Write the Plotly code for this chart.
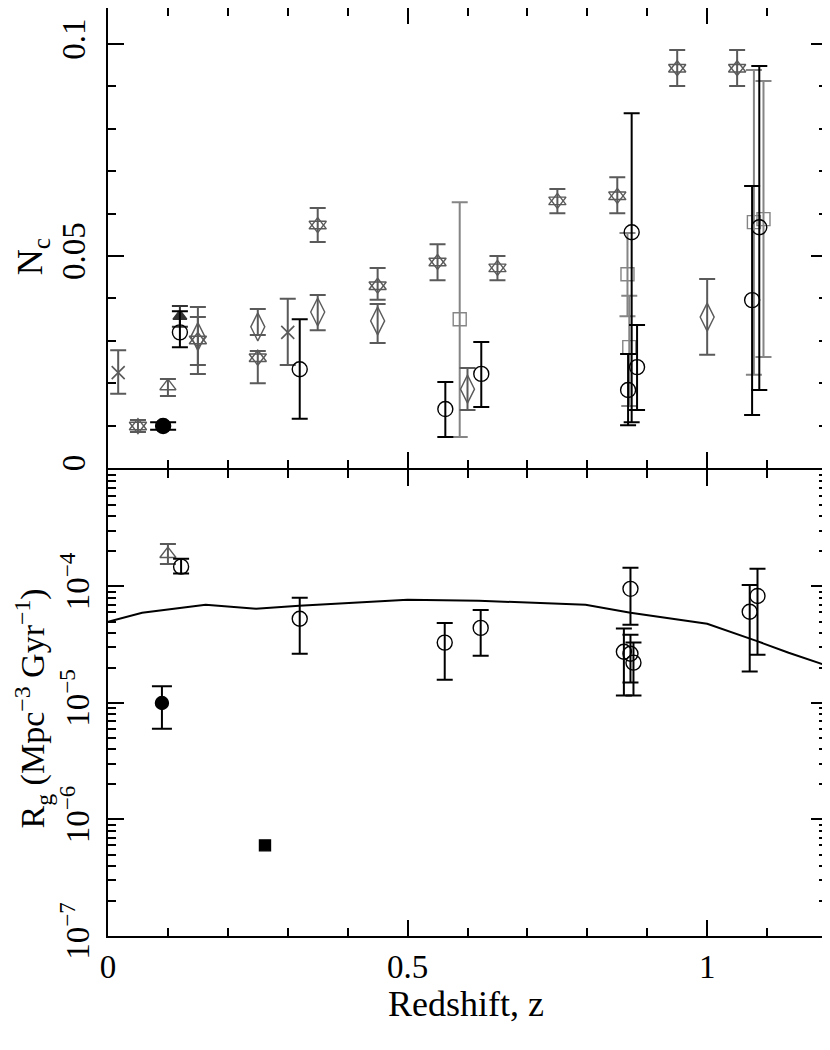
import numpy as np
import plotly.graph_objects as go
from plotly.subplots import make_subplots

# 위 패널: N_c =====================================================================
hex_z = [0.05, 0.15, 0.25, 0.35, 0.45, 0.55, 0.65, 0.75, 0.85, 0.95, 1.05]
hex_nc = [0.0099, 0.0302, 0.026, 0.0573, 0.043, 0.0486, 0.0472, 0.063, 0.0642, 0.0943, 0.0943]
hex_hi = [0.0113, 0.0356, 0.0276, 0.0613, 0.0472, 0.0528, 0.050, 0.0658, 0.0686, 0.0986, 0.0986]
hex_lo = [0.0085, 0.0243, 0.020, 0.0533, 0.0397, 0.0443, 0.0443, 0.0601, 0.0601, 0.0901, 0.0901]

dia_z = [0.15, 0.25, 0.35, 0.45, 0.60, 1.00]
dia_nc = [0.031, 0.0333, 0.0368, 0.0347, 0.0186, 0.0356]
dia_hi = [0.038, 0.0375, 0.0408, 0.0387, 0.0236, 0.0446]
dia_lo = [0.0222, 0.0314, 0.0325, 0.0295, 0.0137, 0.0267]

cross_z = [0.017, 0.30]
cross_nc = [0.0225, 0.032]
cross_hi = [0.0278, 0.0399]
cross_lo = [0.0175, 0.0243]

sq_z = [0.587, 0.867, 0.870, 1.078, 1.094]
sq_nc = [0.0351, 0.0457, 0.0285, 0.058, 0.0587]
sq_hi = [0.0627, 0.0554, 0.0406, 0.0939, 0.0913]
sq_lo = [0.0073, 0.0358, 0.0146, 0.0220, 0.0262]

tri_z = [0.10]
tri_nc = [0.0193]
tri_hi = [0.021]
tri_lo = [0.017]

ftri_z = [0.12]
ftri_nc = [0.0358]
ftri_hi = [0.0382]
ftri_lo = [0.0333]

fcirc_z = [0.092]
fcirc_nc = [0.0099]
fcirc_hi = [0.0108]
fcirc_lo = [0.0090]

circ_z = [0.12, 0.32, 0.563, 0.623, 0.874, 0.868, 0.883, 1.075, 1.087]
circ_nc = [0.032, 0.0233, 0.0139, 0.0222, 0.0556, 0.0184, 0.0238, 0.0396, 0.0568]
circ_hi = [0.037, 0.0351, 0.0203, 0.0297, 0.0837, 0.0269, 0.0337, 0.0665, 0.0948]
circ_lo = [0.0285, 0.0116, 0.0073, 0.0144, 0.0108, 0.0101, 0.0137, 0.0125, 0.0184]

# 아래 패널: R_g ===================================================================
rg_z = [0.122, 0.32, 0.562, 0.622, 0.872, 0.861, 0.872, 0.877, 1.071, 1.084]
rg = [1.48e-4, 5.28e-5, 3.3e-5, 4.41e-5, 9.55e-5, 2.75e-5, 2.65e-5, 2.22e-5, 6.07e-5, 8.3e-5]
rg_hi = [1.73e-4, 8.0e-5, 4.87e-5, 6.3e-5, 1.45e-4, 4.35e-5, 3.85e-5, 3.3e-5, 1.03e-4, 1.42e-4]
rg_lo = [1.29e-4, 2.65e-5, 1.58e-5, 2.55e-5, 4.7e-5, 1.16e-5, 1.5e-5, 1.16e-5, 1.86e-5, 2.6e-5]

rtri_z = [0.10]
rtri = [1.9e-4]
rtri_hi = [2.32e-4]
rtri_lo = [1.56e-4]

rfcirc_z = [0.09]
rfcirc = [1.0e-5]
rfcirc_hi = [1.39e-5]
rfcirc_lo = [6.0e-6]

rfsq_z = [0.262]
rfsq = [6.0e-7]

model_z = [0.0, 0.057, 0.163, 0.247, 0.319, 0.402, 0.5, 0.619, 0.736, 0.797, 0.872, 1.0, 1.081, 1.136, 1.2]
model_rg = [4.99e-5, 5.96e-5, 6.97e-5, 6.44e-5, 6.84e-5, 7.25e-5, 7.69e-5, 7.54e-5, 7.11e-5,
            6.97e-5, 5.96e-5, 4.79e-5, 3.43e-5, 2.7e-5, 2.09e-5]

GRAY = "#5a5a5a"
LGRAY = "#858585"
FONT = "Liberation Serif"
TICK_SIZE = 33
TITLE_SIZE = 36

fig = make_subplots(rows=2, cols=1, shared_xaxes=True, vertical_spacing=0)


def add_pts(x, y, hi, lo, symbol, color, size, row, lw=1.4, fill=None, cap=8):
    """점 + 비대칭 오차 막대"""
    err = None
    if hi is not None:
        err = dict(type="data", symmetric=False,
                   array=[h - v for h, v in zip(hi, y)],
                   arrayminus=[v - l for v, l in zip(y, lo)],
                   color=color, thickness=2, width=cap)
    mk = dict(symbol=symbol, size=size, color=fill or color,
              line=dict(color=color, width=lw))
    fig.add_trace(go.Scatter(x=x, y=y, mode="markers", marker=mk, error_y=err,
                             showlegend=False), row=row, col=1)


# 위 패널
add_pts(sq_z, sq_nc, sq_hi, sq_lo, "square-open", LGRAY, 13, 1)
add_pts(cross_z, cross_nc, cross_hi, cross_lo, "x-thin-open", GRAY, 13, 1, lw=1.6)
add_pts(dia_z, dia_nc, dia_hi, dia_lo, "diamond-tall-open", GRAY, 20, 1)
add_pts(hex_z, hex_nc, hex_hi, hex_lo, "triangle-up-open", GRAY, 15, 1)
add_pts(hex_z, hex_nc, None, None, "triangle-down-open", GRAY, 15, 1)
add_pts(tri_z, tri_nc, tri_hi, tri_lo, "triangle-up-open", GRAY, 14, 1)
add_pts(ftri_z, ftri_nc, ftri_hi, ftri_lo, "triangle-up", "#333333", 12, 1)
add_pts(circ_z, circ_nc, circ_hi, circ_lo, "circle-open", "black", 15, 1)
add_pts(fcirc_z, fcirc_nc, fcirc_hi, fcirc_lo, "circle", "black", 15, 1, cap=13)

# 아래 패널
fig.add_trace(go.Scatter(x=model_z, y=model_rg, mode="lines",
                         line=dict(color="black", width=2), showlegend=False), row=2, col=1)
add_pts(rtri_z, rtri, rtri_hi, rtri_lo, "triangle-up-open", GRAY, 14, 2)
add_pts(rg_z, rg, rg_hi, rg_lo, "circle-open", "black", 15, 2)
add_pts(rfcirc_z, rfcirc, rfcirc_hi, rfcirc_lo, "circle", "black", 13, 2, cap=10)
add_pts(rfsq_z, rfsq, None, None, "square", "black", 11, 2)

axis_common = dict(showline=True, linecolor="black", linewidth=2, mirror="ticks",
                   ticks="inside", tickcolor="black", tickwidth=1.5, showgrid=False,
                   zeroline=False, automargin=False,
                   tickfont=dict(family=FONT, size=TICK_SIZE, color="black"))

fig.update_xaxes(range=[0, 1.2], tickvals=[0, 0.5, 1], ticktext=["0", "0.5", "1"],
                 ticklen=16, minor=dict(dtick=0.1, ticks="inside", ticklen=8,
                                        tickcolor="black", tickwidth=1.5),
                 **axis_common)
fig.update_xaxes(showticklabels=False, row=1, col=1)

fig.update_yaxes(range=[0, 0.1085], tickvals=[0, 0.05, 0.1], ticktext=["0", "0.05", "0.1"],
                 ticklen=16, tickangle=-90, domain=[0.50431, 1], ticklabelstandoff=8,
                 minor=dict(dtick=0.01, ticks="inside", ticklen=8,
                            tickcolor="black", tickwidth=1.5),
                 row=1, col=1, **axis_common)
fig.update_yaxes(type="log", range=[-7, -3], tickvals=[1e-7, 1e-6, 1e-5, 1e-4],
                 ticktext=["10<sup>−7</sup>", "10<sup>−6</sup>", "10<sup>−5</sup>", "10<sup>−4</sup>"],
                 ticklen=16, tickangle=-90, domain=[0, 0.50216], ticklabelstandoff=4,
                 minor=dict(dtick="D1", ticks="inside", ticklen=8,
                            tickcolor="black", tickwidth=1.5),
                 row=2, col=1, **axis_common)

title_font = dict(family=FONT, size=TITLE_SIZE, color="black")
fig.add_annotation(text="N<sub>c</sub>", xref="paper", yref="paper", x=-0.104, y=0.7317,
                   textangle=-90, showarrow=False, font=title_font, xanchor="center", yanchor="middle")
fig.add_annotation(text="R<sub>g</sub> (Mpc<sup>−3</sup> Gyr<sup>−1</sup>)", xref="paper", yref="paper",
                   x=-0.1045, y=0.245, textangle=-90, showarrow=False,
                   font=dict(family=FONT, size=34, color="black"),
                   xanchor="center", yanchor="middle")
fig.add_annotation(text="Redshift, z", xref="paper", yref="paper", x=0.498, y=-0.073,
                   showarrow=False, font=title_font, xanchor="center", yanchor="middle")

# 페이지 기본 여백(8px)을 감안한 크기
fig.update_layout(width=822, height=1042, plot_bgcolor="white", paper_bgcolor="white",
                  margin=dict(l=100, r=3, t=0, b=114), showlegend=False)

fig.write_html("out.html")
